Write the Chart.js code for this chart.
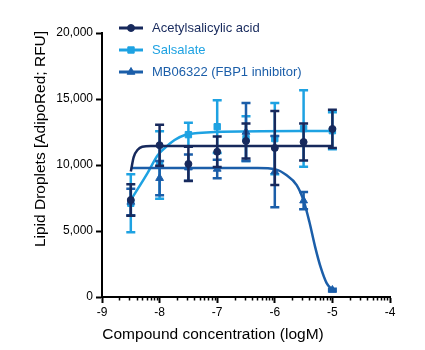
<!DOCTYPE html>
<html>
<head>
<meta charset="utf-8">
<script src="https://cdn.jsdelivr.net/npm/chart.js@4.4.0/dist/chart.umd.min.js"></script>
<style>
  html, body { margin: 0; padding: 0; background: #fff; }
  #wrap { position: relative; width: 425px; height: 350px; }
</style>
</head>
<body>
<div id="wrap"><canvas id="c" width="425" height="350"></canvas></div>
<script>
// ---- data ----
const seriesNames = ['Acetylsalicylic acid', 'Salsalate', 'MB06322 (FBP1 inhibitor)'];
const concLog = [-8.5, -8, -7.5, -7, -6.5, -6, -5.5, -5];

const aspMean = [7350, 11500, 10080, 11000, 11820, 11290, 11740, 12730];
const aspErr  = [1200, 1550, 1300, 1150, 1320, 2800, 1400, 1450];
const salMean = [7100, 10000, 12300, 12900, 12000, 12000, 12760, 12600];
const salErr  = [2200, 2550, 900, 2000, 1700, 2700, 2900, 1400];
const mbMean  = [7200, 9000, 9800, 9700, 12500, 9500, 7300, 530];
const mbErr   = [1000, 1300, 1000, 700, 2200, 2700, 650, 100];

// fitted curves, points
const aspFitX = [-8.5, -8.45, -8.38, -8.3, -8.15, -7, -5];
const aspFitY = [9500, 10600, 11150, 11380, 11440, 11440, 11440];
const salFitX = [-8.5, -8.21, -8.03, -7.91, -7.74, -7.56, -7.33, -7.04, -5];
const salFitY = [7350, 9390, 10760, 11290, 11890, 12270, 12420, 12500, 12580];
const mbFitX  = [-8.5, -6.3, -5.99, -5.8, -5.62, -5.5, -5.4, -5.3, -5.2, -5.1, -5];
const mbFitY  = [9770, 9770, 9670, 9240, 8480, 7300, 5700, 3800, 2200, 1050, 530];

const xTicks = [-9, -8, -7, -6, -5, -4];
const yTicks = [0, 5000, 10000, 15000, 20000];
const xTitle = 'Compound concentration (logM)';
const yTitle = 'Lipid Droplets [AdipoRed; RFU]';

const colors = ['#17295c', '#1ea2e2', '#1b5ea9'];
const styles = ['circle', 'rect', 'triangle'];
const radii = [3.5, 4.5, 4.5];

const FONT = "'Liberation Sans', Arial, Helvetica, sans-serif";

function pts(xs, ys) { return xs.map((x, i) => ({ x: x, y: ys[i] })); }

const means = [aspMean, salMean, mbMean];
const errs = [aspErr, salErr, mbErr];
const fits = [[aspFitX, aspFitY], [salFitX, salFitY], [mbFitX, mbFitY]];
const pointOrder = [0, 4, 2];
const lineOrder = [1, 5, 3];

const datasets = [];
for (let s = 0; s < 3; s++) {
  datasets.push({
    label: seriesNames[s],
    data: pts(concLog, means[s]),
    errors: errs[s],
    showLine: false,
    pointStyle: styles[s],
    pointRadius: radii[s],
    pointBackgroundColor: colors[s],
    pointBorderColor: colors[s],
    pointBorderWidth: 1,
    order: pointOrder[s]
  });
  datasets.push({
    label: seriesNames[s] + ' fit',
    data: pts(fits[s][0], fits[s][1]),
    showLine: true,
    pointRadius: 0,
    borderColor: colors[s],
    borderWidth: 2.5,
    cubicInterpolationMode: 'monotone',
    fill: false,
    order: lineOrder[s]
  });
}

const errorBars = {
  id: 'errorBars',
  beforeDatasetDraw(chart, args) {
    const ds = chart.data.datasets[args.index];
    if (!ds.errors) return;
    const ctx = chart.ctx, xs = chart.scales.x, ys = chart.scales.y;
    ctx.save();
    ctx.strokeStyle = ds.pointBackgroundColor;
    ctx.lineWidth = 2.5;
    ctx.lineCap = 'butt';
    ds.data.forEach((p, i) => {
      const e = ds.errors[i];
      const px = xs.getPixelForValue(p.x);
      const yt = ys.getPixelForValue(p.y + e);
      const yb = ys.getPixelForValue(Math.max(0, p.y - e));
      ctx.beginPath();
      ctx.moveTo(px, yt); ctx.lineTo(px, yb);
      ctx.moveTo(px - 4.5, yt); ctx.lineTo(px + 4.5, yt);
      ctx.moveTo(px - 4.5, yb); ctx.lineTo(px + 4.5, yb);
      ctx.stroke();
    });
    ctx.restore();
  }
};

const decor = {
  id: 'decor',
  afterDraw(chart) {
    const ctx = chart.ctx, xs = chart.scales.x, area = chart.chartArea;
    ctx.save();
    // minor ticks (log spaced) on the x axis
    ctx.strokeStyle = '#000';
    ctx.lineWidth = 1.5;
    for (let d = xTicks[0]; d < xTicks[xTicks.length - 1]; d++) {
      for (let k = 2; k <= 9; k++) {
        const px = Math.round(xs.getPixelForValue(d + Math.log10(k))) + 0.5;
        ctx.beginPath();
        ctx.moveTo(px, area.bottom);
        ctx.lineTo(px, area.bottom + 3.5);
        ctx.stroke();
      }
    }
    // axis titles
    ctx.fillStyle = '#000';
    ctx.font = '15.5px ' + FONT;
    ctx.textAlign = 'center';
    ctx.textBaseline = 'middle';
    ctx.fillText(xTitle, 213, 335);
    ctx.save();
    ctx.translate(41, 139);
    ctx.rotate(-Math.PI / 2);
    ctx.fillText(yTitle, 0, 0);
    ctx.restore();
    // legend
    const rowY = [28, 50, 72];
    ctx.font = '13px ' + FONT;
    ctx.textAlign = 'left';
    for (let s = 0; s < 3; s++) {
      const y = rowY[s];
      ctx.strokeStyle = colors[s];
      ctx.lineWidth = 3;
      ctx.beginPath();
      ctx.moveTo(119, y); ctx.lineTo(143, y);
      ctx.stroke();
      ctx.fillStyle = colors[s];
      ctx.lineWidth = 1;
      Chart.helpers.drawPoint(ctx, { pointStyle: styles[s], radius: radii[s], rotation: 0, borderWidth: 1 }, 131, y);
      ctx.fillText(seriesNames[s], 152, y);
    }
    ctx.restore();
  }
};

new Chart(document.getElementById('c'), {
  type: 'scatter',
  data: { datasets: datasets },
  plugins: [errorBars, decor],
  options: {
    responsive: false,
    devicePixelRatio: 1,
    animation: false,
    events: [],
    layout: { padding: { top: 33, right: 35, left: 0, bottom: 0 } },
    plugins: { legend: { display: false }, tooltip: { enabled: false } },
    scales: {
      x: {
        type: 'linear', min: -9, max: -4,
        afterBuildTicks: (s) => { s.ticks = xTicks.map(v => ({ value: v })); },
        afterFit: (s) => { s.height = 53; },
        ticks: { color: '#000', font: { family: FONT, size: 12 }, padding: 2, maxRotation: 0,
                 callback: (v) => String(v) },
        grid: { drawOnChartArea: false, tickLength: 6, tickColor: '#000', tickWidth: 2 },
        border: { color: '#000', width: 2 }
      },
      y: {
        type: 'linear', min: 0, max: 20000,
        afterBuildTicks: (s) => { s.ticks = yTicks.map(v => ({ value: v })); },
        afterFit: (s) => { s.width = 102; },
        ticks: { color: '#000', font: { family: FONT, size: 12 }, padding: 3,
                 callback: (v) => Number(v).toLocaleString('en-US') },
        grid: { drawOnChartArea: false, tickLength: 6, tickColor: '#000', tickWidth: 2 },
        border: { color: '#000', width: 2 }
      }
    }
  }
});
</script>
</body>
</html>
